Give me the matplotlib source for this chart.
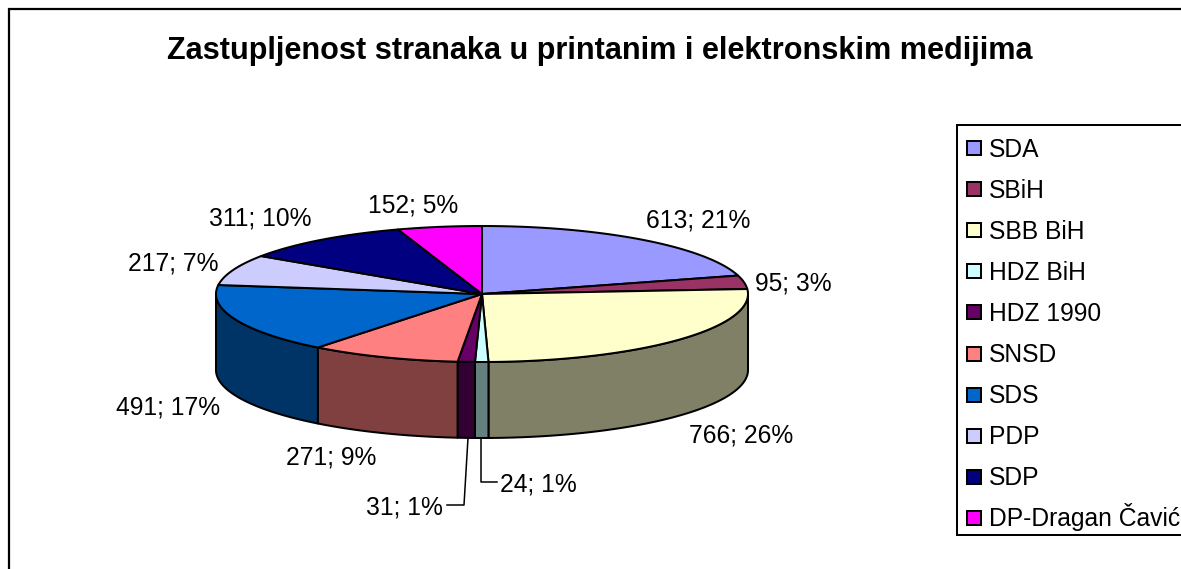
import numpy as np
import matplotlib
matplotlib.use("Agg")
import matplotlib.pyplot as plt
from matplotlib.patches import Rectangle

plt.rcParams['font.family'] = ['Liberation Sans', 'DejaVu Sans']

TITLE = "Zastupljenost stranaka u printanim i elektronskim medijima"
parties = ["SDA", "SBiH", "SBB BiH", "HDZ BiH", "HDZ 1990", "SNSD", "SDS", "PDP", "SDP", "DP-Dragan Čavić"]
votes = [613, 95, 766, 24, 31, 271, 491, 217, 311, 152]
percents = [21, 3, 26, 1, 1, 9, 17, 7, 10, 5]
colors = ["#9999FF", "#993366", "#FFFFCC", "#CCFFFF", "#660066", "#FF8080", "#0066CC", "#CCCCFF", "#000080", "#FF00FF"]
label_x = [698, 793, 741, 538, 404, 331, 168, 173, 260, 413]
label_y = [227, 290, 442, 491, 514, 464, 414, 270, 225, 212]

CX, CY, RX, RY, DEPTH = 482, 294, 266, 68, 76
LW = 1.45
FS = 17.7

fig = plt.figure(figsize=(11.81, 5.69), dpi=100, facecolor="white")
ax = fig.add_axes([0, 0, 1, 1])
ax.set_xlim(0, 1181)
ax.set_ylim(569, 0)
ax.axis("off")


def arc(a0, a1, dy=0):
    t = np.radians(np.linspace(a0, a1, max(int(abs(a1 - a0) * 2), 2)))
    return CX + RX * np.sin(t), CY + dy - RY * np.cos(t)


def darker(hex_color):
    rgb = matplotlib.colors.to_rgb(hex_color)
    return tuple(c * 0.5 for c in rgb)


edges = np.concatenate([[0], np.cumsum(votes)]) / np.sum(votes) * 360

# side walls
for i, c in enumerate(colors):
    a0, a1 = max(edges[i], 90), min(edges[i + 1], 270)
    if a1 > a0:
        x0, y0 = arc(a0, a1)
        x1, y1 = arc(a1, a0, DEPTH)
        ax.fill(np.r_[x0, x1], np.r_[y0, y1], facecolor=darker(c), edgecolor="black",
                linewidth=LW, joinstyle="round", zorder=2)

# top slices
for i, c in enumerate(colors):
    x, y = arc(edges[i], edges[i + 1])
    ax.fill(np.r_[CX, x], np.r_[CY, y], facecolor=c, edgecolor="black",
            linewidth=LW, joinstyle="round", zorder=3)

# data labels
for v, p, lx, ly in zip(votes, percents, label_x, label_y):
    ax.text(lx, ly, f"{v}; {p}%", fontsize=FS, ha="center", va="baseline", color="black", zorder=5)

# leader lines
ax.plot([481, 481, 497], [438, 482, 482], color="black", lw=1.1, zorder=4)
ax.plot([468, 464, 447], [438, 505, 505], color="black", lw=1.1, zorder=4)

# title
ax.text(600, 59, TITLE, fontsize=22.1, fontweight="bold", ha="center", va="baseline", color="black")

# chart frame (right and bottom edges lie outside the picture)
ax.plot([9, 9, 1181], [569, 9, 9], color="black", lw=1.6, zorder=1, solid_joinstyle="miter")

# legend: frame runs past the right edge of the picture
ax.plot([1181, 957, 957, 1181], [125, 125, 535, 535], color="black", lw=LW, zorder=1,
        solid_joinstyle="miter")
for i, (name, c) in enumerate(zip(parties, colors)):
    row = 148 + i * 41.1
    ax.add_patch(Rectangle((967, row - 7), 14, 14, facecolor=c, edgecolor="black", linewidth=LW, zorder=3))
    ax.text(989, row + 8.5, name, fontsize=FS, ha="left", va="baseline", color="black", zorder=5)

fig.savefig("out.png", dpi=100, facecolor="white")
